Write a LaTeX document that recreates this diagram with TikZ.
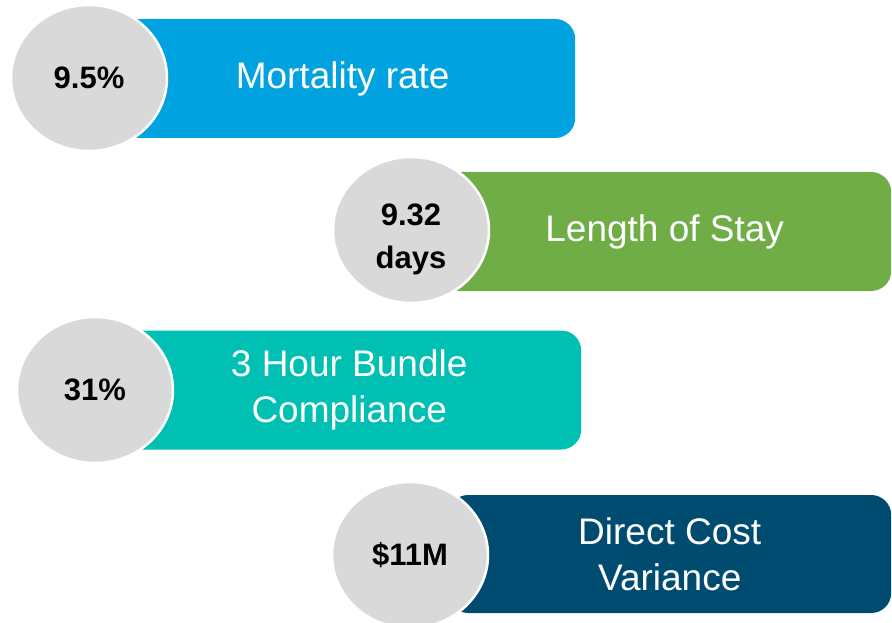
\documentclass[tikz,border=0pt]{standalone}
\usepackage{fontspec}
\setmainfont{Liberation Sans}
\usetikzlibrary{shapes.geometric}

\definecolor{mortblue}{RGB}{0,162,224}
\definecolor{staygreen}{RGB}{112,173,71}
\definecolor{bundleteal}{RGB}{0,191,179}
\definecolor{costnavy}{RGB}{0,76,112}
\definecolor{numgray}{RGB}{217,217,217}

\begin{document}
\begin{tikzpicture}[x=1pt, y=-1pt, every node/.style={inner sep=0pt}]

        % Styles for nodes
        \tikzstyle{bar} = [rectangle, rounded corners=20pt, minimum height=119pt, anchor=west,
                           text=white, align=center, font=\fontsize{37}{46}\selectfont]
        \tikzstyle{num} = [ellipse, fill=numgray, draw=white, line width=2.5pt,
                           minimum width=156pt, minimum height=146pt,
                           align=center, font=\fontsize{31}{43}\selectfont\bfseries]

        \useasboundingbox (0,0) rectangle (892,623);
        \clip (0,0) rectangle (892,623);

        % Bars
        \node[bar, fill=mortblue, minimum width=465pt] (mort) at (110,78.5) {Mortality rate};
        \node[bar, fill=staygreen, minimum width=453pt] (stay) at (438,231.5) {Length of Stay};
        \node[bar, fill=bundleteal, minimum width=464pt] (bundle) at (117,390) {3 Hour Bundle\\Compliance};
        \node[bar, fill=costnavy, minimum width=443pt, minimum height=118pt] (cost) at (448,554) {Direct Cost\\Variance};

        % Circles
        \node[num] (mortval) at (89,78) {9.5\%};
        \node[num] (stayval) at (411,230) {\rule{0pt}{40pt}9.32\\days};
        \node[num] (bundleval) at (95,390) {31\%};
        \node[num] (costval) at (410,555) {\$11M};

\end{tikzpicture}
\end{document}
